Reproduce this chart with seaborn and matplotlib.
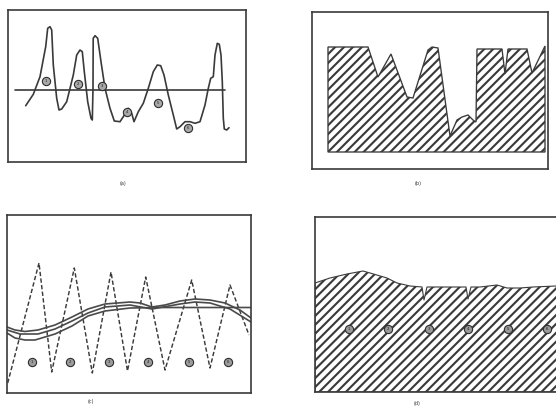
import matplotlib
matplotlib.use("Agg")
import matplotlib.pyplot as plt
import seaborn as sns

# ---------------- data ----------------
# (a) fluctuating record with its mean level and numbered excursions
a_x = [17.7, 25.3, 32, 37.7, 39.7, 42, 43.7, 45.3, 48.7, 51, 53.7, 58.7, 65.3, 68.7,
       72, 74.3, 76.3, 79.7, 83, 84.3, 85, 85.2, 87, 89.7, 93, 97, 102, 106.3, 112,
       115.3, 120.3, 123.7, 126, 130.3, 135.3, 140.3, 145.3, 149.3, 152.7, 156,
       160.3, 165.3, 168.7, 172, 177, 182, 187, 192, 197, 200.3, 202.7, 205.3, 207,
       209.3, 211.3, 213, 214.3, 215.3, 216.3, 218.7, 221]
a_y = [56.3, 67.7, 85.3, 115.3, 133.7, 135.3, 132, 97, 63.7, 52, 53, 60.3, 87, 107,
       112, 110.3, 90.3, 60.3, 43.7, 42, 73.7, 123.7, 126.3, 123.7, 100.3, 73.7, 53.7,
       41, 40.3, 45.3, 53.7, 48.7, 40.3, 50.3, 58.7, 73.7, 90.3, 97, 96.3, 87, 67,
       47, 33, 35.3, 40.3, 40.3, 38.7, 40.3, 57, 73.7, 83.7, 85.3, 107, 118.7, 117.7,
       107, 80.3, 43.7, 33, 32, 34.3]
a_level = 72
a_level_x = [7, 217]
a_mark_x = [37.7, 70.3, 94.3, 119.3, 150.3, 180.3]
a_mark_y = [81, 77.7, 76.3, 49.7, 59.3, 33.7]

# (b) hatched profile
b_x = [16, 16, 56, 66, 79, 95, 101, 116, 120, 126, 138, 145, 150, 156, 161, 164,
       165, 190, 193, 196, 215, 220, 233, 233]
b_y = [17, 122, 122, 92, 115, 72, 71, 119, 122, 121, 33, 49, 52, 54, 49, 47,
       120, 120, 95, 120, 120, 96, 123, 17]

# (c) zig-zag record and three smoothed traces
c_zig_x = [0.7, 32, 44.7, 67.3, 85.3, 104, 120.5, 138.7, 158, 184.7, 203, 223, 242]
c_zig_y = [10, 130, 21, 125, 20, 121, 22, 116, 23, 113, 25, 108, 58]
c_p_x = [0, 8, 18, 31, 48, 65, 81, 98, 123, 133, 145, 158, 173, 188, 203, 218, 233, 244]
c_p_y = [66, 63, 61.5, 63, 68, 76, 84, 89, 91, 90, 86, 88, 92, 94, 93, 90, 83, 75]
c_r_x = [0, 13, 31, 48, 65, 81, 98, 123, 145, 173, 188, 203, 223, 244]
c_r_y = [63, 59, 59, 64, 72, 80, 86, 88, 84, 89, 91, 90, 84, 71]
c_q_x = [0, 8, 18, 28, 48, 65, 81, 98, 123, 153, 193, 244]
c_q_y = [60, 55, 53, 53, 59, 67, 77, 82, 85, 85.5, 85.5, 85.5]
c_mark_x = [25, 63, 102, 141, 182, 221]
c_mark_y = [31, 31, 31, 31, 31, 31]

# (d) hatched surface with small notches
d_x = [0, 15, 32, 48, 55, 72, 82, 95, 107, 109, 112, 132, 151, 153, 156, 165,
       182, 192, 205, 218, 241, 255]
d_y = [109, 114, 118, 121, 119, 114, 109, 106, 105, 92, 105, 105, 105, 93, 105,
       105, 107, 104, 104, 105, 106, 106]
d_mark_x = [34, 73, 114, 153, 193, 232]
d_mark_y = [63, 63, 63, 63, 63, 63]

mark_labels = ["1", "2", "3", "4", "5", "6"]
panel_labels = ["(a)", "(b)", "(c)", "(d)"]

# ---------------- style ----------------
W, H, DPI = 556, 409, 80
sns.set_theme(style="white")
plt.rcParams["hatch.linewidth"] = 1.9
plt.rcParams["font.family"] = ["DejaVu Sans"]

INK = "#3a3a3a"
fig = plt.figure(figsize=(W / DPI, H / DPI), dpi=DPI, facecolor="white")


def panel(left, top, right, bottom, xmax, ymax):
    ax = fig.add_axes([left / W, 1 - bottom / H, (right - left) / W, (bottom - top) / H])
    ax.set_xlim(0, xmax)
    ax.set_ylim(0, ymax)
    ax.set_xticks([])
    ax.set_yticks([])
    ax.set_facecolor("white")
    for s in ax.spines.values():
        s.set_color(INK)
        s.set_linewidth(1.5)
    return ax


def marks(ax, xs, ys, face):
    sns.scatterplot(x=xs, y=ys, ax=ax, s=55, color=face, edgecolor="#2e2e2e",
                    linewidth=1.0, zorder=5, legend=False)
    for x, y, t in zip(xs, ys, mark_labels):
        ax.text(x, y, t, fontsize=3.5, color="#222222", ha="center", va="center", zorder=6)


line_kw = dict(sort=False, estimator=None, color=INK, linewidth=1.5, legend=False)

# (a)
ax_a = panel(8, 10, 246, 162, 238, 152)
sns.lineplot(x=a_x, y=a_y, ax=ax_a, **line_kw)
sns.lineplot(x=a_level_x, y=[a_level, a_level], ax=ax_a, **line_kw)
marks(ax_a, a_mark_x, a_mark_y, "#a8a8a8")

# (b)
ax_b = panel(312, 12, 548, 169, 236, 157)
ax_b.fill(b_x, b_y, facecolor="white", edgecolor=INK, hatch="///", linewidth=1.2)

# (c)
ax_c = panel(7, 215, 251, 393, 244, 178)
sns.lineplot(x=c_zig_x, y=c_zig_y, ax=ax_c, sort=False, estimator=None, color=INK,
             linewidth=1.3, legend=False)
ax_c.lines[-1].set_linestyle((0, (3, 1.6)))
for xs, ys in [(c_p_x, c_p_y), (c_r_x, c_r_y), (c_q_x, c_q_y)]:
    sns.lineplot(x=xs, y=ys, ax=ax_c, sort=False, estimator=None, color="#4a4a4a",
                 linewidth=1.5, legend=False)
marks(ax_c, c_mark_x, c_mark_y, "#9c9c9c")

# (d)
ax_d = panel(315, 217, 570, 392, 255, 175)
ax_d.fill_between(d_x, 0, d_y, facecolor="white", edgecolor=INK, hatch="///", linewidth=1.0)
marks(ax_d, d_mark_x, d_mark_y, "#9a9a9a")

# captions
for (px, py), t in zip([(123, 183), (418, 183), (91, 402), (417, 403)], panel_labels):
    fig.text(px / W, 1 - py / H, t, fontsize=4.5, color="#333333", ha="center", va="center")

fig.savefig("out.png", dpi=DPI, facecolor="white")
